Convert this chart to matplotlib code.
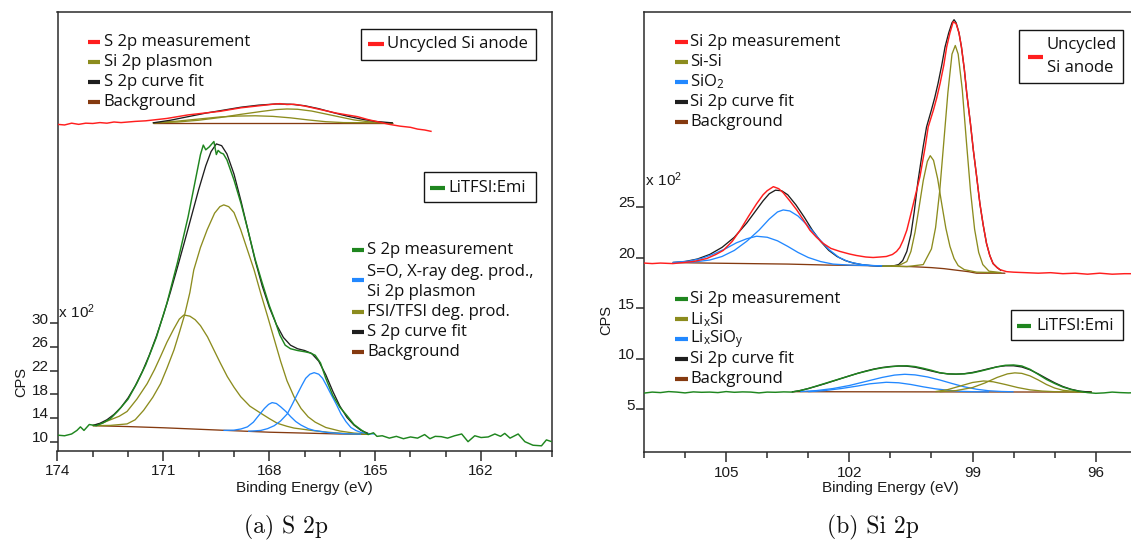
import matplotlib
matplotlib.use("Agg")
import matplotlib.pyplot as plt
from matplotlib.lines import Line2D
from matplotlib.patches import Rectangle
from matplotlib.ticker import FixedLocator, MultipleLocator, NullFormatter
from matplotlib.transforms import ScaledTranslation, blended_transform_factory

# ---------------------------------------------------------------------------
# Spectra: (binding energy [eV], intensity [x10^2 CPS]) point lists
# ---------------------------------------------------------------------------

# --- S 2p, LiTFSI:Emi cycled anode ---
s2p_lit_meas = [
    (174.0, 11.1), (173.8, 11.0), (173.6, 11.3), (173.45, 11.9), (173.35, 12.5),
    (173.25, 11.9), (173.1, 12.9), (172.9, 12.7), (172.7, 13.2), (172.5, 13.9),
    (172.3, 15.1), (172.0, 17.2), (171.75, 19.9), (171.5, 23.0), (171.2, 27.6),
    (170.9, 33.4), (170.6, 40.3), (170.3, 48.0), (170.1, 54.0), (169.95, 58.5),
    (169.87, 60.1), (169.8, 59.3), (169.7, 59.8), (169.57, 60.7), (169.5, 58.5),
    (169.45, 59.2), (169.38, 58.8), (169.3, 58.6), (169.2, 57.6), (169.0, 54.2),
    (168.8, 50.2), (168.6, 45.6), (168.4, 40.8), (168.2, 36.8), (168.0, 33.0),
    (167.85, 30.6), (167.7, 28.0), (167.55, 26.3), (167.4, 25.7), (167.2, 25.4),
    (167.0, 25.2), (166.85, 25.0), (166.7, 24.6), (166.55, 23.3), (166.4, 20.7),
    (166.2, 17.8), (166.0, 15.8), (165.8, 14.4), (165.6, 12.9), (165.4, 12.0),
    (165.2, 11.2), (165.05, 11.5), (164.95, 10.9), (164.8, 11.0), (164.6, 10.6),
    (164.4, 10.9), (164.2, 10.5), (164.0, 10.8), (163.8, 10.6), (163.6, 11.2),
    (163.45, 10.5), (163.3, 10.9), (163.13, 10.85), (162.95, 10.6), (162.75, 11.0),
    (162.55, 11.3), (162.37, 10.0), (162.18, 11.0), (162.0, 10.7), (161.8, 10.8),
    (161.61, 11.3), (161.45, 10.9), (161.33, 11.4), (161.18, 10.6), (160.95, 11.3),
    (160.76, 10.0), (160.53, 9.4), (160.29, 9.3), (160.15, 10.3), (160.0, 10.0),
]
s2p_lit_fit = [
    (173.0, 12.75), (172.8, 13.1), (172.6, 13.7), (172.4, 14.6), (172.2, 15.8),
    (172.0, 17.4), (171.8, 19.4), (171.6, 21.8), (171.4, 24.6), (171.2, 27.8),
    (171.0, 31.4), (170.8, 35.3), (170.6, 39.5), (170.4, 43.8), (170.2, 48.2),
    (170.0, 52.6), (169.8, 56.6), (169.65, 59.0), (169.5, 60.3), (169.35, 60.0),
    (169.2, 58.6), (169.0, 55.2), (168.8, 50.6), (168.6, 45.6), (168.4, 40.6),
    (168.2, 36.3), (168.0, 32.7), (167.8, 29.8), (167.6, 27.6), (167.4, 26.3),
    (167.2, 25.7), (167.0, 25.4), (166.8, 24.9), (166.6, 23.6), (166.4, 21.3),
    (166.2, 18.5), (166.0, 16.0), (165.8, 14.1), (165.6, 12.8), (165.4, 11.9),
    (165.2, 11.4),
]
s2p_lit_deg_a = [
    (173.0, 12.7), (172.75, 13.1), (172.5, 13.7), (172.25, 14.3), (172.03, 15.1),
    (171.75, 17.2), (171.46, 19.8), (171.25, 22.2), (171.08, 24.4), (170.9, 26.8),
    (170.71, 29.0), (170.55, 30.7), (170.42, 31.4), (170.25, 31.2), (170.1, 30.6),
    (169.95, 29.6), (169.75, 27.7), (169.57, 25.5), (169.38, 23.2), (169.19, 21.0),
    (169.0, 19.2), (168.81, 17.6), (168.55, 16.0), (168.24, 14.8), (168.0, 13.9),
    (167.77, 13.1), (167.5, 12.6), (167.3, 12.3), (166.8, 11.9), (166.35, 11.6),
    (165.8, 11.35), (165.2, 11.25),
]
s2p_lit_deg_b = [
    (173.0, 12.7), (172.5, 12.75), (172.03, 13.0), (171.8, 13.7), (171.56, 15.3),
    (171.3, 17.5), (171.08, 19.8), (170.9, 22.4), (170.7, 25.5), (170.55, 28.4),
    (170.4, 31.4), (170.25, 35.2), (170.14, 39.0), (169.95, 42.8), (169.76, 45.8),
    (169.55, 48.6), (169.4, 49.7), (169.29, 50.0), (169.15, 49.7), (169.0, 48.7),
    (168.81, 45.8), (168.62, 42.4), (168.43, 39.0), (168.24, 35.0), (168.05, 31.2),
    (167.86, 27.3), (167.68, 23.6), (167.5, 20.3), (167.3, 17.6), (167.1, 15.6),
    (166.9, 14.2), (166.7, 13.3), (166.4, 12.4), (166.0, 11.8), (165.6, 11.45),
    (165.2, 11.3),
]
s2p_lit_so_1 = [
    (169.3, 11.9), (169.0, 11.95), (168.8, 12.15), (168.62, 12.5), (168.45, 13.3),
    (168.33, 14.2), (168.14, 15.6), (168.02, 16.3), (167.92, 16.6), (167.8, 16.45),
    (167.68, 15.9), (167.53, 15.1), (167.39, 14.2), (167.25, 13.4), (167.1, 12.8),
    (166.9, 12.2), (166.73, 11.9), (166.35, 11.55), (165.9, 11.35), (165.4, 11.28),
]
s2p_lit_so_2 = [
    (168.6, 11.75), (168.24, 11.9), (168.05, 12.2), (167.86, 12.7), (167.68, 13.5),
    (167.49, 14.7), (167.35, 16.3), (167.2, 18.1), (167.08, 19.5), (166.97, 20.7),
    (166.85, 21.4), (166.73, 21.66), (166.6, 21.4), (166.49, 20.7), (166.38, 19.5),
    (166.26, 18.1), (166.1, 16.3), (165.97, 14.7), (165.83, 13.4), (165.69, 12.4),
    (165.55, 11.9), (165.4, 11.55), (165.2, 11.35), (165.02, 11.3),
]
s2p_lit_bg = [
    (173.0, 12.7), (172.0, 12.55), (171.0, 12.35), (170.0, 12.1), (169.0, 11.85),
    (168.0, 11.6), (167.0, 11.45), (166.0, 11.3), (165.2, 11.25),
]

# --- S 2p, uncycled Si anode (stacked above) ---
s2p_unc_meas = [
    (174.0, 63.6), (173.8, 63.5), (173.6, 63.8), (173.4, 63.6), (173.2, 63.8),
    (173.0, 63.75), (172.8, 63.9), (172.6, 63.8), (172.4, 64.0), (172.2, 63.9),
    (172.0, 64.0), (171.8, 64.1), (171.5, 64.2), (171.2, 64.4), (170.9, 64.6),
    (170.6, 64.9), (170.3, 65.2), (170.0, 65.4), (169.7, 65.6), (169.4, 65.8),
    (169.1, 66.1), (168.8, 66.4), (168.5, 66.6), (168.2, 66.8), (167.9, 67.0),
    (167.7, 67.1), (167.5, 66.95), (167.3, 67.0), (167.0, 66.7), (166.7, 66.3),
    (166.4, 65.9), (166.1, 65.5), (165.8, 65.2), (165.5, 64.9), (165.2, 64.4),
    (164.9, 64.0), (164.6, 63.6), (164.3, 63.3), (164.0, 63.1), (163.8, 62.8),
    (163.6, 62.65), (163.4, 62.4),
]
s2p_unc_fit = [
    (171.3, 63.85), (170.8, 64.3), (170.3, 64.9), (169.8, 65.5), (169.3, 66.0),
    (168.8, 66.5), (168.3, 66.85), (167.8, 67.05), (167.4, 67.0), (167.0, 66.75),
    (166.6, 66.25), (166.2, 65.6), (165.8, 65.0), (165.4, 64.5), (165.0, 64.1),
    (164.5, 63.85),
]
s2p_unc_plasmon_1 = [
    (171.3, 63.85), (170.6, 64.0), (170.0, 64.3), (169.4, 64.75), (168.8, 65.3),
    (168.2, 65.8), (167.8, 66.1), (167.5, 66.2), (167.2, 66.15), (166.8, 65.85),
    (166.4, 65.35), (166.0, 64.85), (165.6, 64.35), (165.2, 64.05), (164.8, 63.9),
    (164.5, 63.85),
]
s2p_unc_plasmon_2 = [
    (171.3, 63.85), (170.6, 64.15), (170.0, 64.5), (169.4, 64.85), (168.9, 65.0),
    (168.4, 65.05), (167.9, 64.95), (167.4, 64.7), (166.9, 64.35), (166.4, 64.05),
    (165.9, 63.9), (164.5, 63.85),
]
s2p_unc_bg = [(171.3, 63.85), (164.5, 63.85)]

# --- Si 2p, uncycled Si anode ---
si2p_unc_meas = [
    (107.0, 19.45), (106.8, 19.4), (106.6, 19.45), (106.3, 19.4), (106.04, 19.5),
    (105.8, 19.6), (105.47, 19.9), (105.25, 20.3), (105.07, 20.7), (104.85, 21.6),
    (104.66, 22.7), (104.45, 24.1), (104.26, 25.3), (104.1, 26.2), (104.0, 26.6),
    (103.85, 27.0), (103.72, 26.8), (103.61, 26.4), (103.45, 25.6), (103.28, 24.7),
    (103.1, 23.6), (102.96, 22.7), (102.8, 22.0), (102.64, 21.4), (102.45, 20.9),
    (102.23, 20.6), (102.0, 20.35), (101.83, 20.2), (101.6, 20.05), (101.42, 20.0),
    (101.25, 20.05), (101.1, 20.1), (100.95, 20.3), (100.85, 20.6), (100.77, 21.0),
    (100.69, 21.7), (100.6, 22.7), (100.52, 24.0), (100.4, 26.0), (100.28, 28.0),
    (100.15, 31.0), (100.08, 32.9), (99.95, 34.6), (99.87, 35.8), (99.79, 37.2),
    (99.7, 39.0), (99.63, 40.8), (99.55, 42.2), (99.47, 43.3), (99.4, 43.1),
    (99.33, 42.2), (99.27, 40.8), (99.2, 38.6), (99.14, 36.2), (99.05, 33.2),
    (98.98, 30.6), (98.9, 28.0), (98.82, 25.3), (98.74, 23.2), (98.66, 21.4),
    (98.58, 20.2), (98.5, 19.4), (98.4, 19.0), (98.33, 18.8), (98.17, 18.6),
    (98.0, 18.55), (97.7, 18.5), (97.4, 18.45), (97.1, 18.5), (96.8, 18.4),
    (96.5, 18.45), (96.2, 18.35), (95.9, 18.45), (95.6, 18.35), (95.3, 18.4),
    (95.0, 18.4),
]
si2p_unc_fit = [
    (106.3, 19.5), (106.0, 19.6), (105.7, 19.85), (105.4, 20.3), (105.1, 21.0),
    (104.8, 22.0), (104.5, 23.4), (104.3, 24.5), (104.1, 25.6), (103.95, 26.3),
    (103.8, 26.65), (103.65, 26.6), (103.5, 26.2), (103.3, 25.2), (103.1, 24.0),
    (102.9, 22.7), (102.7, 21.6), (102.5, 20.7), (102.3, 20.1), (102.1, 19.7),
    (101.9, 19.45), (101.7, 19.3), (101.5, 19.2), (101.3, 19.15), (101.1, 19.15),
    (100.9, 19.2), (100.8, 19.3), (100.7, 19.7), (100.6, 20.6), (100.5, 22.3),
    (100.42, 24.5), (100.33, 27.5), (100.2, 31.0), (100.12, 32.9), (100.0, 34.6),
    (99.92, 35.8), (99.84, 37.2), (99.75, 39.0), (99.67, 40.8), (99.58, 42.2),
    (99.5, 43.2), (99.45, 43.5), (99.4, 43.2), (99.33, 42.2), (99.27, 40.8),
    (99.2, 38.6), (99.14, 36.2), (99.05, 33.2), (98.98, 30.6), (98.9, 28.0),
    (98.82, 25.3), (98.74, 23.2), (98.66, 21.4), (98.58, 20.2), (98.5, 19.4),
    (98.4, 19.0), (98.3, 18.7),
]
si2p_unc_sisi_1 = [
    (101.2, 19.15), (100.6, 19.1), (100.2, 19.3), (100.0, 20.85), (99.9, 22.95),
    (99.8, 26.55), (99.7, 31.4), (99.6, 36.3), (99.5, 40.1), (99.42, 40.95),
    (99.35, 40.1), (99.25, 36.6), (99.15, 31.5), (99.05, 26.6), (98.95, 22.8),
    (98.85, 20.5), (98.75, 19.3), (98.6, 18.65), (98.3, 18.5),
]
si2p_unc_sisi_2 = [
    (101.2, 19.15), (100.8, 19.2), (100.6, 19.6), (100.5, 20.6), (100.4, 22.5),
    (100.3, 25.0), (100.2, 27.6), (100.1, 29.5), (100.03, 30.06), (99.95, 29.6),
    (99.85, 27.8), (99.75, 25.3), (99.65, 22.9), (99.55, 21.1), (99.45, 19.9),
    (99.35, 19.2), (99.2, 18.8), (98.9, 18.55), (98.3, 18.5),
]
si2p_unc_sio2_1 = [
    (106.3, 19.5), (105.8, 19.55), (105.4, 19.75), (105.1, 20.1), (104.8, 20.7),
    (104.5, 21.6), (104.2, 22.7), (103.95, 23.8), (103.75, 24.5), (103.61, 24.7),
    (103.45, 24.6), (103.25, 24.1), (103.0, 23.1), (102.75, 21.9), (102.5, 20.8),
    (102.25, 20.0), (102.0, 19.55), (101.7, 19.3), (101.4, 19.2), (101.0, 19.15),
]
si2p_unc_sio2_2 = [
    (106.3, 19.5), (105.9, 19.65), (105.6, 19.9), (105.3, 20.35), (105.0, 20.9),
    (104.75, 21.45), (104.5, 21.85), (104.26, 22.1), (104.0, 22.0), (103.75, 21.65),
    (103.5, 21.1), (103.25, 20.5), (103.0, 20.0), (102.7, 19.6), (102.4, 19.35),
    (102.0, 19.25), (101.5, 19.2), (101.0, 19.15),
]
si2p_unc_bg = [
    (106.3, 19.5), (105.5, 19.45), (104.5, 19.4), (103.5, 19.35), (102.5, 19.25),
    (101.5, 19.2), (100.5, 19.1), (100.0, 19.0), (99.7, 18.9), (99.4, 18.75),
    (99.1, 18.6), (98.9, 18.45), (98.2, 18.45),
]

# --- Si 2p, LiTFSI:Emi cycled anode ---
si2p_lit_meas = [
    (107.0, 6.6), (106.8, 6.7), (106.6, 6.65), (106.4, 6.75), (106.2, 6.7),
    (106.0, 6.62), (105.8, 6.72), (105.6, 6.68), (105.4, 6.7), (105.2, 6.65),
    (105.0, 6.75), (104.8, 6.68), (104.6, 6.72), (104.4, 6.7), (104.2, 6.62),
    (104.0, 6.7), (103.8, 6.68), (103.6, 6.72), (103.4, 6.7), (103.2, 6.85),
    (103.0, 7.05), (102.8, 7.3), (102.6, 7.55), (102.4, 7.8), (102.2, 8.05),
    (102.0, 8.3), (101.8, 8.55), (101.6, 8.75), (101.4, 8.95), (101.2, 9.1),
    (101.0, 9.2), (100.8, 9.28), (100.6, 9.3), (100.4, 9.22), (100.2, 9.05),
    (100.0, 8.85), (99.8, 8.62), (99.6, 8.5), (99.4, 8.48), (99.2, 8.5),
    (99.0, 8.6), (98.8, 8.78), (98.6, 8.98), (98.4, 9.2), (98.2, 9.35),
    (98.0, 9.38), (97.8, 9.28), (97.6, 8.95), (97.4, 8.45), (97.2, 7.95),
    (97.0, 7.55), (96.8, 7.2), (96.6, 6.95), (96.4, 6.78), (96.2, 6.65),
    (96.0, 6.58), (95.8, 6.62), (95.6, 6.7), (95.4, 6.65), (95.2, 6.62),
    (95.0, 6.65),
]
si2p_lit_fit = [
    (103.4, 6.72), (103.2, 6.85), (103.0, 7.05), (102.8, 7.28), (102.6, 7.52),
    (102.4, 7.78), (102.2, 8.04), (102.0, 8.3), (101.8, 8.55), (101.6, 8.78),
    (101.4, 8.98), (101.2, 9.13), (101.0, 9.23), (100.8, 9.28), (100.6, 9.26),
    (100.4, 9.16), (100.2, 8.98), (100.0, 8.78), (99.8, 8.6), (99.6, 8.5),
    (99.4, 8.47), (99.2, 8.52), (99.0, 8.64), (98.8, 8.82), (98.6, 9.02),
    (98.4, 9.2), (98.2, 9.3), (98.0, 9.3), (97.8, 9.18), (97.6, 8.9),
    (97.4, 8.5), (97.2, 8.05), (97.0, 7.62), (96.8, 7.25), (96.6, 6.98),
    (96.4, 6.8), (96.2, 6.72), (96.1, 6.7),
]
si2p_lit_lisio_1 = [
    (103.2, 6.75), (102.8, 6.85), (102.4, 7.05), (102.0, 7.35), (101.6, 7.75),
    (101.2, 8.15), (100.9, 8.38), (100.65, 8.46), (100.4, 8.4), (100.1, 8.2),
    (99.8, 7.9), (99.5, 7.55), (99.2, 7.22), (98.9, 6.98), (98.6, 6.83),
    (98.3, 6.76), (98.0, 6.73),
]
si2p_lit_lisio_2 = [
    (103.0, 6.74), (102.6, 6.85), (102.2, 7.05), (101.8, 7.3), (101.5, 7.52),
    (101.1, 7.67), (100.8, 7.62), (100.5, 7.45), (100.2, 7.22), (99.9, 7.02),
    (99.6, 6.88), (99.3, 6.78), (99.0, 6.74), (98.6, 6.72),
]
si2p_lit_lisi_1 = [
    (99.8, 6.74), (99.4, 6.85), (99.0, 7.15), (98.7, 7.6), (98.4, 8.15),
    (98.15, 8.5), (97.97, 8.6), (97.8, 8.55), (97.6, 8.3), (97.4, 7.9),
    (97.2, 7.45), (97.0, 7.1), (96.8, 6.88), (96.5, 6.75), (96.1, 6.72),
]
si2p_lit_lisi_2 = [
    (99.9, 6.75), (99.6, 6.95), (99.3, 7.3), (99.0, 7.65), (98.73, 7.8),
    (98.5, 7.72), (98.2, 7.45), (97.9, 7.15), (97.6, 6.92), (97.3, 6.8),
    (97.0, 6.74), (96.5, 6.72), (96.1, 6.72),
]
si2p_lit_bg = [(103.4, 6.74), (100.0, 6.72), (96.1, 6.7)]

# axis ticks
s2p_xticks = [174, 171, 168, 165, 162]
s2p_yticks = [10, 14, 18, 22, 26, 30]
si2p_xticks = [105, 102, 99, 96]
si2p_yticks = [5, 10, 15, 20, 25]

# ---------------------------------------------------------------------------
C_GREEN = '#1f861f'
C_RED = '#ff1e1e'
C_OLIVE = '#8c8c1e'
C_BLUE = '#2288ff'
C_FIT = '#1e1e1e'
C_BG = '#853a10'
C_AXIS = '#2b2b2b'

plt.rcParams['font.family'] = ['Liberation Sans', 'DejaVu Sans']

W, H, DPI = 1131, 541, 100
fig = plt.figure(figsize=(W / DPI, H / DPI), dpi=DPI)
fig.patch.set_facecolor('white')


def fx(x):
    return x / W


def fy(y):
    return 1 - y / H


def axes_px(left, top, right, bottom):
    return fig.add_axes([fx(left), fy(bottom), (right - left) / W, (bottom - top) / H])


def style_axes(ax, xlim, ylim, xticks, yticks):
    ax.set_xlim(*xlim)
    ax.set_ylim(*ylim)
    ax.set_facecolor('none')
    for sp in ax.spines.values():
        sp.set_color(C_AXIS)
        sp.set_linewidth(1.1)
    ax.xaxis.set_major_locator(FixedLocator(xticks))
    ax.xaxis.set_minor_locator(MultipleLocator(1))
    ax.tick_params(axis='x', which='major', direction='out', length=7.5, width=1.1,
                   pad=2.5, color=C_AXIS, labelcolor='#1a1a1a', labelsize=11)
    ax.tick_params(axis='x', which='minor', direction='out', length=4.0, width=1.1,
                   color=C_AXIS)
    ax.yaxis.set_major_locator(FixedLocator(yticks))
    ax.yaxis.set_major_formatter(NullFormatter())
    ax.tick_params(axis='y', which='major', direction='out', length=5.6, width=1.1,
                   color=C_AXIS)
    tr = blended_transform_factory(ax.transAxes, ax.transData) + \
        ScaledTranslation(-9.0 / DPI, 3.5 / DPI, fig.dpi_scale_trans)
    for v in yticks:
        ax.text(0, v, f'{v:g}', transform=tr, ha='right', va='center',
                fontsize=11, color='#1a1a1a')


def curve(ax, pts, color, z, lw=0.95):
    ax.plot([p[0] for p in pts], [p[1] for p in pts], color=color, lw=lw,
            zorder=z, solid_joinstyle='round', solid_capstyle='butt')


LEG = dict(family='Open Sans', fontsize=12, color='#111111')


def entry(x0, x1, xt, y, color, text, yh=None):
    yh = y if yh is None else yh
    fig.add_artist(Line2D([fx(x0), fx(x1)], [fy(yh), fy(yh)], transform=fig.transFigure,
                          color=color, lw=3.0, solid_capstyle='butt'))
    if text:
        fig.text(fx(xt), fy(y), text, ha='left', va='center', **LEG)


def box(l, t, r, b):
    fig.add_artist(Rectangle((fx(l), fy(b)), (r - l) / W, (b - t) / H,
                             transform=fig.transFigure, facecolor='white',
                             edgecolor='#151515', lw=1.0))


# ---------------- (a) S 2p ----------------
axL = axes_px(57.5, 12, 551.7, 450.5)
style_axes(axL, (174, 160), (8.51, 82.58), s2p_xticks, s2p_yticks)

curve(axL, s2p_unc_bg, C_BG, 2)
curve(axL, s2p_unc_plasmon_2, C_OLIVE, 3)
curve(axL, s2p_unc_plasmon_1, C_OLIVE, 3)
curve(axL, s2p_unc_fit, C_FIT, 4)
curve(axL, s2p_unc_meas, C_RED, 5, lw=1.05)

curve(axL, s2p_lit_bg, C_BG, 2)
curve(axL, s2p_lit_deg_a, C_OLIVE, 3)
curve(axL, s2p_lit_deg_b, C_OLIVE, 3)
curve(axL, s2p_lit_so_1, C_BLUE, 3)
curve(axL, s2p_lit_so_2, C_BLUE, 3)
curve(axL, s2p_lit_fit, C_FIT, 4)
curve(axL, s2p_lit_meas, C_GREEN, 5, lw=1.05)

fig.text(fx(58), fy(312), r'$\mathregular{x\ 10^2}$', ha='left', va='center', fontsize=11,
         color='#1a1a1a')
fig.text(fx(21), fy(382), 'CPS', rotation=90, ha='center', va='center', fontsize=10.5,
         color='#1a1a1a')
fig.text(fx(304.5), fy(488), 'Binding Energy (eV)', ha='center', va='center', fontsize=11,
         color='#1a1a1a')
fig.text(fx(286.5), fy(527), '(a) S 2p', ha='center', va='center', family='cmr10',
         fontsize=17, color='#111111')

# legends
for y, c, t in [(42.3, C_RED, 'S 2p measurement'), (62.3, C_OLIVE, 'Si 2p plasmon'),
                (82.3, C_FIT, 'S 2p curve fit'), (102.3, C_BG, 'Background')]:
    entry(88, 100, 103.5, y, c, t)
box(360.6, 29.3, 535.5, 60)
entry(367.7, 383.8, 387.3, 44.3, C_RED, 'Uncycled Si anode')
box(423.8, 171.7, 535.5, 202.3)
entry(430, 444.5, 448, 187.5, C_GREEN, 'LiTFSI:Emi')

entry(351.6, 364, 367, 250, C_GREEN, 'S 2p measurement')
entry(351.6, 364, 367, 271.5, C_BLUE, 'S=O, X-ray deg. prod.,', yh=280)
fig.text(fx(367), fy(291.7), 'Si 2p plasmon', ha='left', va='center', **LEG)
entry(351.6, 364, 367, 311.7, C_OLIVE, 'FSI/TFSI deg. prod.')
entry(351.6, 364, 367, 332, C_FIT, 'S 2p curve fit')
entry(351.6, 364, 367, 351.7, C_BG, 'Background')

# ---------------- (b) Si 2p ----------------
axR = axes_px(644, 12, 1136.8, 452)
style_axes(axR, (107, 95), (0.78, 44.26), si2p_xticks, si2p_yticks)

curve(axR, si2p_unc_bg, C_BG, 2)
curve(axR, si2p_unc_fit, C_FIT, 3)
curve(axR, si2p_unc_sio2_1, C_BLUE, 4)
curve(axR, si2p_unc_sio2_2, C_BLUE, 4)
curve(axR, si2p_unc_sisi_1, C_OLIVE, 4)
curve(axR, si2p_unc_sisi_2, C_OLIVE, 4)
curve(axR, si2p_unc_meas, C_RED, 5, lw=1.05)

curve(axR, si2p_lit_bg, C_BG, 2)
curve(axR, si2p_lit_lisio_1, C_BLUE, 3)
curve(axR, si2p_lit_lisio_2, C_BLUE, 3)
curve(axR, si2p_lit_lisi_1, C_OLIVE, 3)
curve(axR, si2p_lit_lisi_2, C_OLIVE, 3)
curve(axR, si2p_lit_fit, C_FIT, 4)
curve(axR, si2p_lit_meas, C_GREEN, 5, lw=1.05)

fig.text(fx(645), fy(180), r'$\mathregular{x\ 10^2}$', ha='left', va='center', fontsize=11,
         color='#1a1a1a')
fig.text(fx(606), fy(320), 'CPS', rotation=90, ha='center', va='center', fontsize=10.5,
         color='#1a1a1a')
fig.text(fx(890.4), fy(488), 'Binding Energy (eV)', ha='center', va='center', fontsize=11,
         color='#1a1a1a')
fig.text(fx(873.3), fy(527), '(b) Si 2p', ha='center', va='center', family='cmr10',
         fontsize=17, color='#111111')

for y, c, t in [(42.3, C_RED, 'Si 2p measurement'), (62.3, C_OLIVE, 'Si-Si'),
                (82.0, C_BLUE, r'SiO$\mathregular{_2}$'), (102.3, C_FIT, 'Si 2p curve fit'),
                (122.3, C_BG, 'Background')]:
    entry(675, 688, 690.5, y, c, t)
box(1019.3, 30, 1123.3, 82.7)
entry(1028, 1043, 1046.7, 56.7, C_RED, None)
fig.text(fx(1046.7), fy(45), 'Uncycled', ha='left', va='center', **LEG)
fig.text(fx(1046.7), fy(68.3), 'Si anode', ha='left', va='center', **LEG)

for y, c, t in [(299, C_GREEN, 'Si 2p measurement'), (319.3, C_OLIVE, r'Li$\mathregular{_x}$Si'),
                (339.3, C_BLUE, r'Li$\mathregular{_x}$SiO$\mathregular{_y}$'),
                (359, C_FIT, 'Si 2p curve fit'), (378.7, C_BG, 'Background')]:
    entry(675, 688, 690.5, y, c, t)
box(1010.6, 310, 1122.6, 340)
entry(1017, 1031, 1036.8, 325.5, C_GREEN, 'LiTFSI:Emi')

fig.savefig('out.png', dpi=DPI, facecolor='white')
